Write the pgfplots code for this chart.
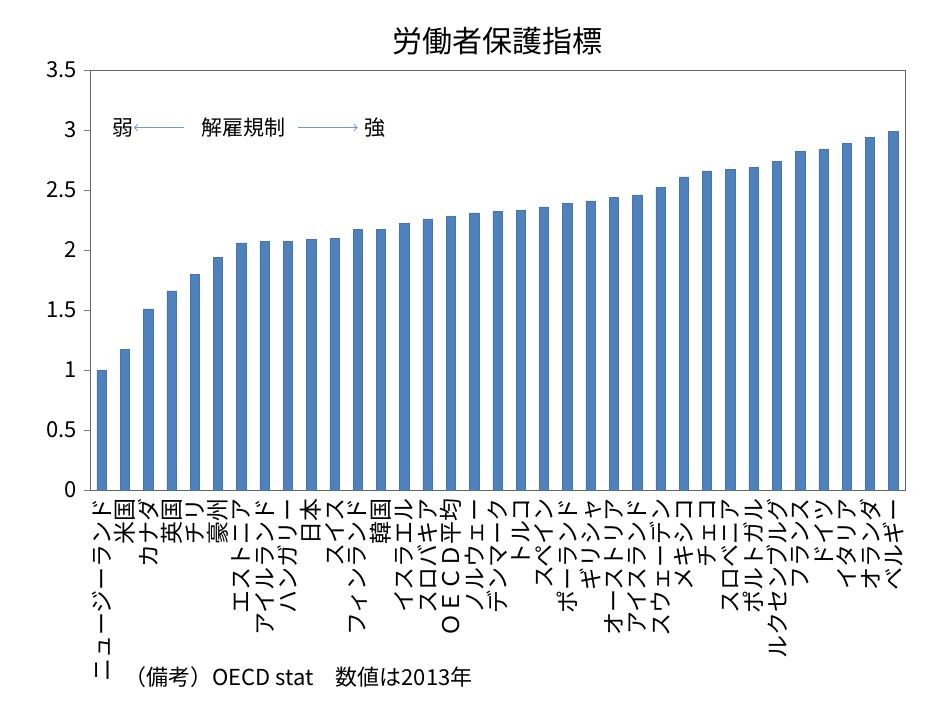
\documentclass[border=0pt]{standalone}
\usepackage{fontspec}
\setmainfont{Noto Sans CJK JP}
\usepackage{pgfplots}
\pgfplotsset{compat=1.18}
\definecolor{barblue}{HTML}{4F81BD}
\definecolor{arrowblue}{HTML}{7A97C9}

\begin{document}
\begin{tikzpicture}
\begin{axis}[
    scale only axis,
    width=407.5pt,
    height=210pt,
    xmin=-0.5, xmax=34.5,
    ymin=0, ymax=3.5,
    ytick={0,0.5,...,3.5},
    xtick={0,...,34},
    xticklabels={ニュージーランド,米国,カナダ,英国,チリ,豪州,エストニア,アイルランド,ハンガリー,日本,スイス,フィンランド,韓国,イスラエル,スロバキア,ＯＥＣＤ平均,ノルウェー,デンマーク,トルコ,スペイン,ポーランド,ギリシャ,オーストリア,アイスランド,スウェーデン,メキシコ,チェコ,スロベニア,ポルトガル,ルクセンブルグ,フランス,ドイツ,イタリア,オランダ,ベルギー},
    xticklabel style={rotate=90, anchor=east, font=\fontsize{11.5}{12}\selectfont, inner sep=1pt},
    x tick style={draw=none},
    ytick pos=left,
    tick align=outside,
    major tick length=3pt,
    y tick style={black!50},
    yticklabel style={font=\fontsize{11}{12}\selectfont, /pgf/number format/assume math mode=true},
    axis line style={black!60},
    ybar,
    bar width=4.7pt,
    clip=false,
]
\addplot[draw=barblue!90!black, fill=barblue, line width=0.3pt] coordinates {
(0,1.00) (1,1.17) (2,1.51) (3,1.66) (4,1.80) (5,1.94) (6,2.06) (7,2.07)
(8,2.07) (9,2.09) (10,2.10) (11,2.17) (12,2.17) (13,2.22) (14,2.26)
(15,2.28) (16,2.31) (17,2.32) (18,2.33) (19,2.36) (20,2.39) (21,2.41)
(22,2.44) (23,2.46) (24,2.52) (25,2.61) (26,2.66) (27,2.67) (28,2.69)
(29,2.74) (30,2.82) (31,2.84) (32,2.89) (33,2.94) (34,2.99)
};
\node[font=\fontsize{10.5}{11}\selectfont] at (axis cs:0.92,3.02) {弱};
\node[font=\fontsize{10.5}{11}\selectfont] at (axis cs:6.1,3.02) {解雇規制};
\node[font=\fontsize{10.5}{11}\selectfont] at (axis cs:11.74,3.02) {強};
\draw[->, arrowblue, line width=0.5pt] (axis cs:3.55,3.02) -- (axis cs:1.38,3.02);
\draw[->, arrowblue, line width=0.5pt] (axis cs:8.45,3.02) -- (axis cs:11.0,3.02);
\node[anchor=base, font=\fontsize{15}{16}\selectfont, inner sep=0pt] at ([yshift=9pt]rel axis cs:0.5,1) {労働者保護指標};
\node[anchor=base west, font=\fontsize{11}{12}\selectfont, inner sep=0pt] at ([xshift=17pt, yshift=-97.5pt]rel axis cs:0,0) {（備考）OECD stat　数値は2013年};
\end{axis}
\path (current axis.south west) ++(-45pt,-105.5pt) (current axis.north east) ++(14.5pt,35pt);
\end{tikzpicture}
\end{document}
